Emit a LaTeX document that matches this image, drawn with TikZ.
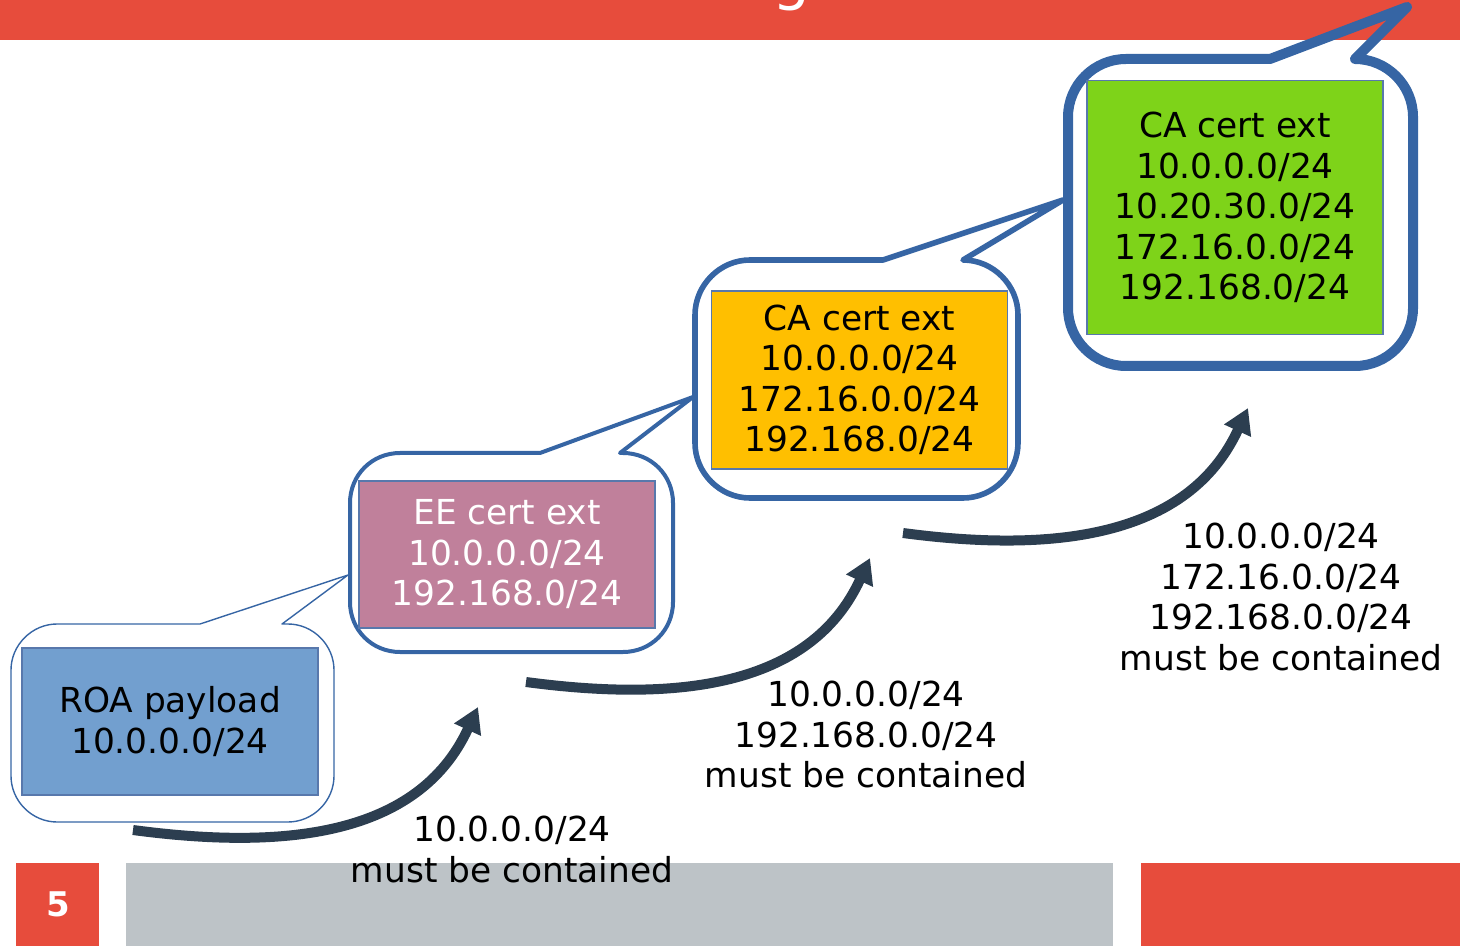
\documentclass[tikz,border=0pt]{standalone}
\usepackage{fontspec}
\setmainfont{DejaVu Sans}
\usepackage{tikz}
\usetikzlibrary{arrows.meta}
\definecolor{slidered}{RGB}{231,76,60}
\definecolor{footgray}{RGB}{189,195,199}
\definecolor{callblue}{RGB}{54,101,164}
\definecolor{roablue}{RGB}{114,159,207}
\definecolor{eemauve}{RGB}{192,128,155}
\definecolor{caorange}{RGB}{255,191,0}
\definecolor{cagreen}{RGB}{126,211,25}
\definecolor{arrownavy}{RGB}{44,62,80}
\definecolor{boxline}{RGB}{88,120,172}

\begin{document}
\begin{tikzpicture}[x=0.5pt,y=-0.5pt,
  txt/.style={font=\fontsize{17.2}{20.25}\selectfont, align=center, inner sep=0pt},
  certbox/.style={txt, draw=boxline, line width=0.6pt, minimum width=148pt},
  callout/.style={draw=callblue, line join=round},
  flow/.style={draw=arrownavy, line width=5pt, -{Triangle[length=12.5pt,width=14pt]}}]
\useasboundingbox (0,0) rectangle (1460,951);

% slide frame
\fill[slidered] (0,0) rectangle (1460,40);
\begin{scope}
\clip (0,0) rectangle (1460,40);
\node[anchor=base, text=white, font=\fontsize{30}{36}\selectfont, inner sep=0pt] (titlefrag) at (792,-1) {g};
\end{scope}
\fill[slidered] (16,863) rectangle (99,946);
\fill[footgray] (126,863) rectangle (1113,946);
\fill[slidered] (1141,863) rectangle (1460,946);
\node[text=white, font=\fontsize{17}{20}\selectfont\bfseries] (pagenum) at (58,904) {5};

% callouts
\draw[callout, line width=0.7pt] (200,624) -- (348,575) -- (282,624) -- (288,624)
  .. controls (313,624) and (334,645) .. (334,670) -- (334,776)
  .. controls (334,801) and (313,822) .. (288,822) -- (57,822)
  .. controls (32,822) and (11,801) .. (11,776) -- (11,670)
  .. controls (11,645) and (32,624) .. (57,624) -- cycle;
\draw[callout, line width=2pt] (540,453) -- (693,397) -- (620,453) -- (623,453)
  .. controls (651,453) and (673,475) .. (673,503) -- (673,602)
  .. controls (673,630) and (651,652) .. (623,652) -- (400,652)
  .. controls (372,652) and (350,630) .. (350,602) -- (350,503)
  .. controls (350,475) and (372,453) .. (400,453) -- cycle;
\draw[callout, line width=2.8pt] (883,260) -- (1063,200) -- (963,260)
  .. controls (993,260) and (1018,285) .. (1018,315) -- (1018,443)
  .. controls (1018,473) and (993,498) .. (963,498) -- (750,498)
  .. controls (720,498) and (695,473) .. (695,443) -- (695,315)
  .. controls (695,285) and (720,260) .. (750,260) -- cycle;
\draw[callout, line width=5pt] (1270,59) -- (1407,7) -- (1355,59)
  .. controls (1387,59) and (1413,85) .. (1413,117) -- (1413,308)
  .. controls (1413,340) and (1387,366) .. (1355,366) -- (1126,366)
  .. controls (1094,366) and (1068,340) .. (1068,308) -- (1068,117)
  .. controls (1068,85) and (1094,59) .. (1126,59) -- cycle;

% certificate boxes
\node[certbox, fill=roablue, minimum height=73.5pt] (roa) at (170,721.5) {ROA payload\\10.0.0.0/24};
\node[certbox, fill=eemauve, text=white, minimum height=73.5pt] (ee) at (507,554.5) {EE cert ext\\10.0.0.0/24\\192.168.0/24};
\node[certbox, fill=caorange, minimum height=89pt] (caone) at (859.5,380) {CA cert ext\\10.0.0.0/24\\172.16.0.0/24\\192.168.0/24};
\node[certbox, fill=cagreen, minimum height=127pt] (catwo) at (1235,207.5) {CA cert ext\\10.0.0.0/24\\10.20.30.0/24\\172.16.0.0/24\\192.168.0/24};

% arrows
\coordinate (s1) at (133,830);
\coordinate (t1) at (478,707);
\coordinate (s2) at (526,682);
\coordinate (t2) at (870,558);
\coordinate (s3) at (903,533);
\coordinate (t3) at (1248,408);
\draw[flow] (s1) .. controls +(150,20) and +(-60,130) .. (t1);
\draw[flow] (s2) .. controls +(150,20) and +(-60,130) .. (t2);
\draw[flow] (s3) .. controls +(150,20) and +(-60,130) .. (t3);

% conditions
\node[txt] (need1) at (512,849.5) {10.0.0.0/24\\must be contained};
\node[txt] (need2) at (866,734.5) {10.0.0.0/24\\192.168.0.0/24\\must be contained};
\node[txt] (need3) at (1281,597) {10.0.0.0/24\\172.16.0.0/24\\192.168.0.0/24\\must be contained};
\end{tikzpicture}
\end{document}
